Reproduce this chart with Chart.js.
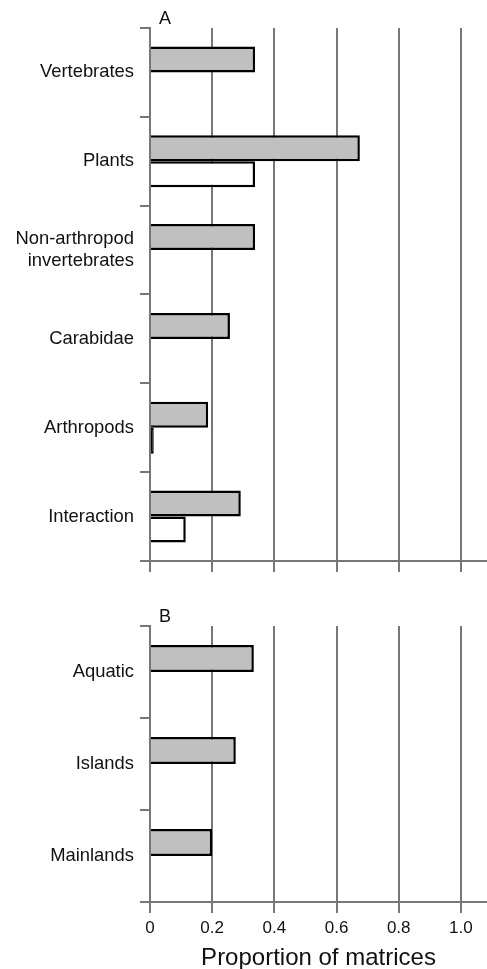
<!DOCTYPE html>
<html>
<head>
<meta charset="utf-8">
<script src="https://cdn.jsdelivr.net/npm/chart.js@4.4.0/dist/chart.umd.min.js"></script>
<style>
  html, body { margin: 0; padding: 0; background: #fff; }
  .panel { position: relative; width: 487px; }
  #wrapA { height: 578px; }
  #wrapB { height: 391px; }
</style>
</head>
<body>
<div class="panel" id="wrapA"><canvas id="chartA"></canvas></div>
<div class="panel" id="wrapB"><canvas id="chartB"></canvas></div>
<script>
  const categoriesA = ["Vertebrates", "Plants", ["Non-arthropod", "invertebrates"], "Carabidae", "Arthropods", "Interaction"];
  const greyA = [0.338, 0.675, 0.338, 0.257, 0.187, 0.292];
  const whiteA = [0, 0.338, 0, 0, 0.012, 0.115];

  const categoriesB = ["Aquatic", "Islands", "Mainlands"];
  const greyB = [0.334, 0.276, 0.2];
  const whiteB = [0, 0, 0];

  const xTickValues = [0, 0.2, 0.4, 0.6, 0.8, 1.0];
  const xTickLabels = ["0", "0.2", "0.4", "0.6", "0.8", "1.0"];
  const xAxisTitle = "Proportion of matrices";

  Chart.defaults.font.family = "'Liberation Sans', Arial, Helvetica, sans-serif";
  Chart.defaults.color = "#111";
  Chart.defaults.animation = false;

  const gridGrey = "#777";

  // panel letter in the top-left corner of the plot
  const panelLetter = {
    id: "panelLetter",
    afterDraw(chart, args, opts) {
      const { ctx, chartArea } = chart;
      ctx.save();
      ctx.font = "18px 'Liberation Sans', Arial, sans-serif";
      ctx.fillStyle = "#111";
      ctx.textBaseline = "alphabetic";
      ctx.fillText(opts.text, chartArea.left + 9, chartArea.top - 4.5);
      ctx.restore();
    },
  };

  function makeChart(id, letter, cats, grey, white, topPad, showLabels) {
    return new Chart(document.getElementById(id), {
      type: "bar",
      data: {
        labels: cats,
        datasets: [
          {
            data: grey,
            backgroundColor: "#c0c0c0",
            borderColor: "#000",
            borderWidth: 2.5,
            categoryPercentage: 0.585,
            barPercentage: 1.0,
          },
          {
            data: white,
            // very thin bars read as a solid black stub
            backgroundColor: (c) => (c.raw > 0 && c.raw < 0.02 ? "#000" : "#fff"),
            borderColor: "#000",
            borderWidth: 2.5,
            categoryPercentage: 0.585,
            barPercentage: 1.0,
          },
        ],
      },
      options: {
        indexAxis: "y",
        responsive: true,
        maintainAspectRatio: false,
        layout: { padding: { top: topPad, left: 0, right: 0, bottom: 0 } },
        plugins: {
          legend: { display: false },
          tooltip: { enabled: false },
          panelLetter: { text: letter },
        },
        scales: {
          x: {
            min: 0,
            max: 1.084,
            ticks: {
              display: showLabels,
              padding: 5,
              font: { size: 17 },
              color: "#111",
              callback: (v, i) => xTickLabels[i],
            },
            afterBuildTicks: (s) => {
              s.ticks = xTickValues.map((v) => ({ value: v }));
            },
            grid: {
              color: gridGrey,
              lineWidth: 2,
              tickLength: 11,
              tickColor: gridGrey,
            },
            border: { display: true, color: gridGrey, width: 2 },
            title: {
              display: showLabels,
              text: xAxisTitle,
              font: { size: 24, lineHeight: 0.9 },
              color: "#111",
              padding: { top: 4, bottom: 0 },
            },
            afterFit: (s) => {
              if (!showLabels) s.height = 15;
            },
          },
          y: {
            ticks: {
              padding: 6,
              font: { size: 18.4 },
              color: "#111",
            },
            grid: {
              offset: true,
              drawOnChartArea: false,
              drawTicks: true,
              tickLength: 10,
              color: gridGrey,
              lineWidth: 2,
            },
            border: { display: true, color: gridGrey, width: 2 },
            afterFit: (s) => {
              s.width = 150;
            },
          },
        },
      },
      plugins: [panelLetter],
    });
  }

  makeChart("chartA", "A", categoriesA, greyA, whiteA, 28, false);
  makeChart("chartB", "B", categoriesB, greyB, whiteB, 48, true);
</script>
</body>
</html>
